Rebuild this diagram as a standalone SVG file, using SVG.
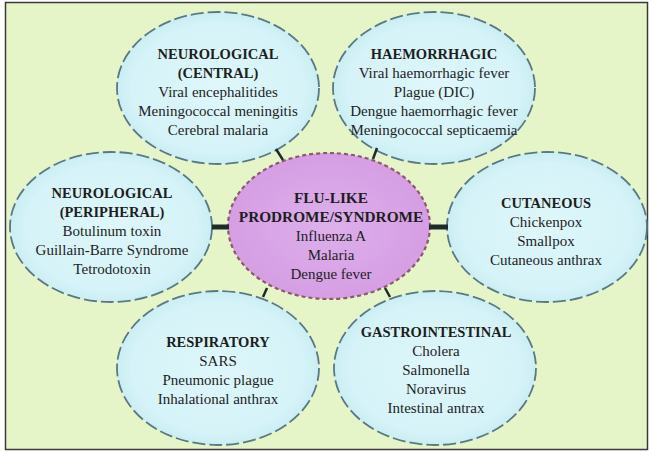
<svg xmlns="http://www.w3.org/2000/svg" width="649" height="452" viewBox="0 0 649 452">
<defs>
<radialGradient id="gBlue" cx="50%" cy="50%" r="50%">
<stop offset="0" stop-color="#def7fb"/>
<stop offset="0.85" stop-color="#d5f3f8"/>
<stop offset="1" stop-color="#cbeef3"/>
</radialGradient>
<radialGradient id="gPink" cx="50%" cy="50%" r="50%">
<stop offset="0" stop-color="#ddb0eb"/>
<stop offset="1" stop-color="#d69ee4"/>
</radialGradient>
</defs>
<style>
.bg{fill:#e6f5c8;stroke:#3a3a3a;stroke-width:1.5}
.el{fill:url(#gBlue);stroke:#587985;stroke-width:1.8;stroke-dasharray:13 4}
.ctr{fill:url(#gPink);stroke:#8a5a6a;stroke-width:2.2;stroke-dasharray:4 3}
text{font-family:"Liberation Serif","Times New Roman",serif;font-size:15px;fill:#1e1e1e;text-anchor:middle}
.h{font-weight:bold;font-size:14.5px}
.hc{font-size:15.3px}
.con line{stroke:#1f2a2a;stroke-linecap:butt}
</style>
<rect class="bg" x="5.5" y="2.5" width="642" height="447"/>

<g id="neuro-central">
<ellipse class="el" cx="218" cy="88" rx="101" ry="76"/>
<text class="h" x="218" y="59">NEUROLOGICAL</text>
<text class="h" x="218" y="78">(CENTRAL)</text>
<text x="218" y="97">Viral encephalitides</text>
<text x="218" y="116">Meningococcal meningitis</text>
<text x="218" y="135">Cerebral malaria</text>
</g>

<g id="haemorrhagic">
<ellipse class="el" cx="434" cy="88" rx="101" ry="76"/>
<text class="h" x="434" y="59">HAEMORRHAGIC</text>
<text x="434" y="78">Viral haemorrhagic fever</text>
<text x="434" y="97">Plague (DIC)</text>
<text x="434" y="116">Dengue haemorrhagic fever</text>
<text x="434" y="135">Meningococcal septicaemia</text>
</g>

<g id="neuro-peripheral">
<ellipse class="el" cx="111" cy="227" rx="101" ry="75"/>
<text class="h" x="112" y="198">NEUROLOGICAL</text>
<text class="h" x="112" y="217">(PERIPHERAL)</text>
<text x="112" y="236">Botulinum toxin</text>
<text x="112" y="255">Guillain-Barre Syndrome</text>
<text x="112" y="274">Tetrodotoxin</text>
</g>

<g id="cutaneous">
<ellipse class="el" cx="547" cy="227" rx="100" ry="75"/>
<text class="h" x="546" y="208">CUTANEOUS</text>
<text x="546" y="227">Chickenpox</text>
<text x="546" y="246">Smallpox</text>
<text x="546" y="265">Cutaneous anthrax</text>
</g>

<g id="respiratory">
<ellipse class="el" cx="218" cy="368" rx="101" ry="77"/>
<text class="h" x="218" y="347">RESPIRATORY</text>
<text x="218" y="366">SARS</text>
<text x="218" y="385">Pneumonic plague</text>
<text x="218" y="404">Inhalational anthrax</text>
</g>

<g id="gastrointestinal">
<ellipse class="el" cx="435" cy="368" rx="101" ry="77"/>
<text class="h" x="436" y="337">GASTROINTESTINAL</text>
<text x="436" y="356">Cholera</text>
<text x="436" y="375">Salmonella</text>
<text x="436" y="394">Noravirus</text>
<text x="436" y="413">Intestinal antrax</text>
</g>

<g id="flu-like">
<ellipse class="ctr" cx="329" cy="226" rx="101" ry="73"/>
<text class="h hc" x="331" y="203">FLU-LIKE</text>
<text class="h hc" x="331" y="222">PRODROME/SYNDROME</text>
<text x="331" y="241">Influenza A</text>
<text x="331" y="260">Malaria</text>
<text x="331" y="279">Dengue fever</text>
</g>

<g id="connectors" class="con">
<line x1="212" y1="227" x2="229" y2="227" stroke-width="5"/>
<line x1="429" y1="227" x2="448" y2="227" stroke-width="5"/>
<line x1="276" y1="149" x2="283" y2="160" stroke-width="2.5"/>
<line x1="377" y1="148" x2="373" y2="159" stroke-width="2.5"/>
<line x1="267" y1="288" x2="263" y2="297" stroke-width="2.5"/>
<line x1="385" y1="288" x2="390" y2="297" stroke-width="2.5"/>
</g>
</svg>
